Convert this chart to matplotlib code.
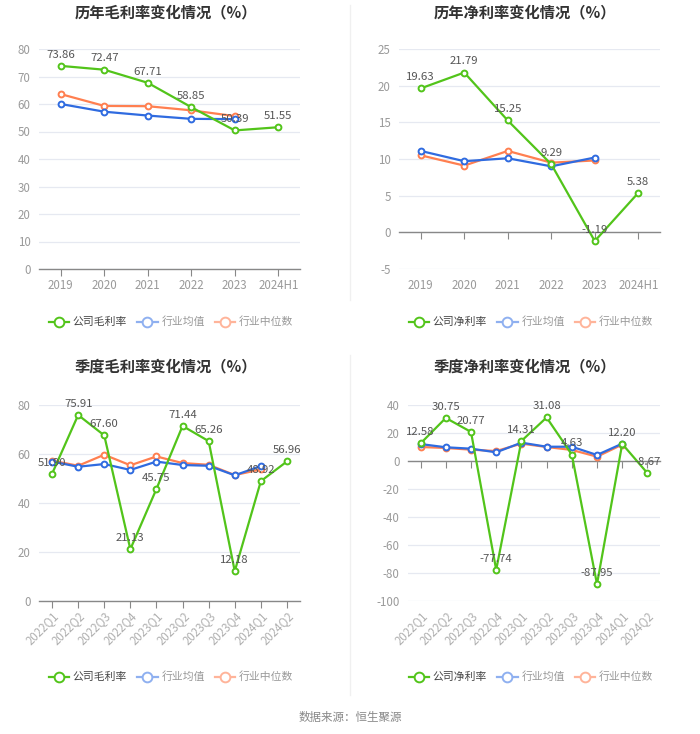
import matplotlib
matplotlib.use("Agg")
import matplotlib.pyplot as plt
from matplotlib.lines import Line2D

plt.rcParams['font.family'] = ['Noto Sans CJK SC', 'DejaVu Sans']

# annual data
years = ['2019', '2020', '2021', '2022', '2023', '2024H1']
gross_company = [73.86, 72.47, 67.71, 58.85, 50.39, 51.55]
gross_ind_mean = [60.0, 57.2, 55.8, 54.6, 54.5]
gross_ind_median = [63.6, 59.3, 59.2, 57.7, 55.6]

net_company = [19.63, 21.79, 15.25, 9.29, -1.19, 5.38]
net_ind_mean = [11.1, 9.7, 10.1, 9.0, 10.2]
net_ind_median = [10.5, 9.1, 11.1, 9.5, 9.8]

# quarterly data
quarters = ['2022Q1', '2022Q2', '2022Q3', '2022Q4', '2023Q1', '2023Q2',
            '2023Q3', '2023Q4', '2024Q1', '2024Q2']
qgross_company = [51.90, 75.91, 67.60, 21.13, 45.75, 71.44, 65.26, 12.18, 48.92, 56.96]
qgross_ind_mean = [56.9, 54.8, 55.9, 53.5, 56.9, 55.5, 55.2, 51.3, 55.1]
qgross_ind_median = [57.3, 55.2, 59.7, 55.4, 59.0, 56.3, 55.6, 51.4, 53.7]

qnet_company = [12.58, 30.75, 20.77, -77.74, 14.31, 31.08, 4.63, -87.95, 12.20, -8.67]
qnet_ind_mean = [12.1, 9.8, 8.8, 6.2, 13.1, 10.2, 10.2, 4.3, 12.4]
qnet_ind_median = [10.0, 9.3, 8.1, 7.1, 12.4, 10.0, 7.9, 3.1, 11.7]

GREEN = '#52c41a'
BLUE = '#2f6be0'
ORANGE = '#ff7f50'
TICK_C = '#9a9a9a'
GRID_C = '#e6e9f1'


def draw_panel(ax, cats, comp, mean, median, yticks, rotate=False):
    x = list(range(len(cats)))
    for vals, col, z in [(median, ORANGE, 3), (mean, BLUE, 4), (comp, GREEN, 5)]:
        ax.plot(x[:len(vals)], vals, color=col, lw=1.6, marker='o', ms=4.2,
                mfc='white', mec=col, mew=1.4, zorder=z)
    for xi, v in zip(x, comp):
        ax.annotate(f'{v:.2f}', (xi, v), xytext=(0, 4.5), textcoords='offset points',
                    ha='center', va='bottom', fontsize=8.2, color='#555555', zorder=6)
    ax.set_xlim(-0.5, len(cats) - 0.5)
    ax.set_ylim(yticks[0], yticks[-1])
    ax.set_yticks(yticks)
    ax.set_yticklabels([str(t) for t in yticks])
    ax.tick_params(axis='y', length=0, labelsize=8.3, labelcolor=TICK_C, pad=6)
    ax.grid(axis='y', color=GRID_C, lw=0.9)
    ax.set_axisbelow(True)
    for s in ['left', 'right', 'top']:
        ax.spines[s].set_visible(False)
    ax.spines['bottom'].set_color('#888888')
    ax.spines['bottom'].set_linewidth(1.0)
    ax.set_xticks(x)
    ax.tick_params(axis='x', length=5, color='#888888', labelbottom=False)
    if yticks[0] < 0:
        ax.spines['bottom'].set_position(('data', 0))
    sec = ax.secondary_xaxis(0)
    sec.set_xticks(x)
    sec.spines['bottom'].set_visible(False)
    if rotate:
        sec.set_xticklabels(cats, rotation=45, ha='right', rotation_mode='anchor')
        sec.tick_params(length=0, labelsize=8.3, labelcolor='#b0b0b0', pad=6)
    else:
        sec.set_xticklabels(cats)
        sec.tick_params(length=0, labelsize=8.3, labelcolor=TICK_C, pad=7)


def add_legend(fig, cx, cy, first):
    handles = [
        Line2D([], [], color=GREEN, lw=1.6, marker='o', ms=7, mfc='white', mec=GREEN, mew=1.4),
        Line2D([], [], color='#8fb0f0', lw=1.6, marker='o', ms=7, mfc='white', mec='#8fb0f0', mew=1.4),
        Line2D([], [], color='#ffb49a', lw=1.6, marker='o', ms=7, mfc='white', mec='#ffb49a', mew=1.4),
    ]
    leg = fig.legend(handles, [first, '行业均值', '行业中位数'], loc='center',
                     bbox_to_anchor=(cx, cy), ncol=3, frameon=False, fontsize=7.8,
                     handlelength=1.9, handletextpad=0.35, columnspacing=0.9)
    for t, c in zip(leg.get_texts(), ['#444444', '#999999', '#999999']):
        t.set_color(c)


fig = plt.figure(figsize=(7, 7.34), dpi=100)
W, H = 700, 734


def box(x0, x1, ytop, ybot):
    return [x0 / W, 1 - ybot / H, (x1 - x0) / W, (ybot - ytop) / H]


ax1 = fig.add_axes(box(39, 300, 49, 269))
ax2 = fig.add_axes(box(399, 660, 49, 269))
ax3 = fig.add_axes(box(39, 300, 405, 601))
ax4 = fig.add_axes(box(408, 660, 405, 601))

draw_panel(ax1, years, gross_company, gross_ind_mean, gross_ind_median, list(range(0, 81, 10)))
draw_panel(ax2, years, net_company, net_ind_mean, net_ind_median, list(range(-5, 26, 5)))
draw_panel(ax3, quarters, qgross_company, qgross_ind_mean, qgross_ind_median,
           list(range(0, 81, 20)), rotate=True)
draw_panel(ax4, quarters, qnet_company, qnet_ind_mean, qnet_ind_median,
           list(range(-100, 41, 20)), rotate=True)

title_kw = dict(ha='center', va='center', fontsize=11, fontweight='bold', color='#333333')
fig.text(166 / W, 1 - 12 / H, '历年毛利率变化情况（%）', **title_kw)
fig.text(525 / W, 1 - 12 / H, '历年净利率变化情况（%）', **title_kw)
fig.text(166 / W, 1 - 366 / H, '季度毛利率变化情况（%）', **title_kw)
fig.text(525 / W, 1 - 366 / H, '季度净利率变化情况（%）', **title_kw)

add_legend(fig, 171 / W, 1 - 322 / H, '公司毛利率')
add_legend(fig, 531 / W, 1 - 322 / H, '公司净利率')
add_legend(fig, 171 / W, 1 - 677 / H, '公司毛利率')
add_legend(fig, 531 / W, 1 - 677 / H, '公司净利率')

# faint vertical separators
fig.add_artist(Line2D([0.5, 0.5], [1 - 300 / H, 1 - 5 / H], color='#f0f0f0', lw=1))
fig.add_artist(Line2D([0.5, 0.5], [1 - 695 / H, 1 - 355 / H], color='#f0f0f0', lw=1))

fig.text(0.5, 1 - 717 / H, '数据来源：恒生聚源', ha='center', va='center',
         fontsize=8.3, color='#888888')

fig.savefig('out.png', dpi=100)
